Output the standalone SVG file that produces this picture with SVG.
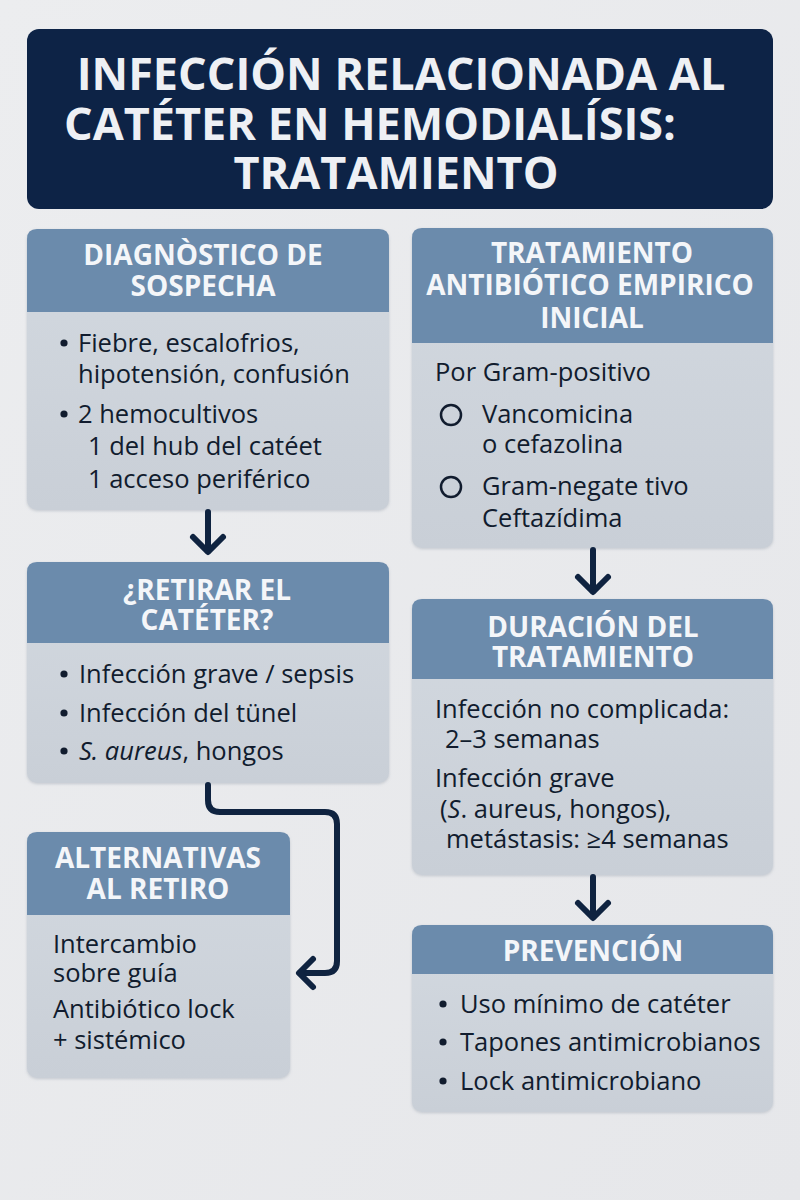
<svg xmlns="http://www.w3.org/2000/svg" width="800" height="1200" viewBox="0 0 800 1200">
<defs>
<linearGradient id="bodyG" x1="0" y1="0" x2="0" y2="1">
<stop offset="0" stop-color="#d3d9e0"/>
<stop offset="1" stop-color="#c9cfd7"/>
</linearGradient>
<linearGradient id="bgG" x1="0" y1="0" x2="1" y2="1">
<stop offset="0" stop-color="#ecedef"/>
<stop offset="1" stop-color="#e6e7ea"/>
</linearGradient>
<filter id="sh" x="-5%" y="-5%" width="110%" height="110%">
<feDropShadow dx="0" dy="1" stdDeviation="1.5" flood-color="#7a8596" flood-opacity="0.35"/>
</filter>
<style>
.body{fill:url(#bodyG);filter:url(#sh)}
.head{fill:#6b8bac}
.ht{font-family:"Open Sans","Noto Sans",sans-serif;font-weight:700;font-size:28px;fill:#f4f6f9;text-anchor:middle}
.tt{font-family:"Open Sans","Noto Sans",sans-serif;font-weight:700;font-size:45px;fill:#eef0f4;text-anchor:middle}
.bt{font-family:"Open Sans","Noto Sans",sans-serif;font-weight:500;font-size:25.5px;fill:#111c2e}
.dot{fill:#111c2e}
.conn{fill:none;stroke:#0f2340;stroke-width:6;stroke-linecap:round;stroke-linejoin:round}
.cb{fill:none;stroke:#111c2e;stroke-width:2.5}
</style>
</defs>
<rect width="800" height="1200" fill="url(#bgG)"/>

<g id="title">
<rect x="27" y="29" width="746" height="180" rx="12" fill="#0d2346"/>
<text class="tt" x="401" y="90">INFECCIÓN RELACIONADA AL</text>
<text class="tt" x="370" y="140">CATÉTER EN HEMODIALÍSIS:</text>
<text class="tt" x="396" y="189">TRATAMIENTO</text>
</g>

<g id="diagnostico">
<rect class="body" x="27" y="229" width="362" height="281" rx="10"/>
<path class="head" d="M27,312 V239 Q27,229 37,229 H379 Q389,229 389,239 V312 Z"/>
<text class="ht" x="203" y="265">DIAGNÒSTICO DE</text>
<text class="ht" x="203" y="296">SOSPECHA</text>
<circle class="dot" cx="64" cy="343" r="3.6"/>
<text class="bt" x="78" y="352">Fiebre, escalofrios,</text>
<text class="bt" x="78" y="383">hipotensión, confusión</text>
<circle class="dot" cx="64" cy="414" r="3.6"/>
<text class="bt" x="78" y="423">2 hemocultivos</text>
<text class="bt" x="88" y="455">1 del hub del catéet</text>
<text class="bt" x="88" y="488">1 acceso periférico</text>
</g>

<g id="retirar">
<rect class="body" x="27" y="562" width="362" height="221" rx="10"/>
<path class="head" d="M27,643 V572 Q27,562 37,562 H379 Q389,562 389,572 V643 Z"/>
<text class="ht" x="207" y="600">¿RETIRAR EL</text>
<text class="ht" x="207" y="630">CATÉTER?</text>
<circle class="dot" cx="64" cy="674" r="3.6"/>
<text class="bt" x="79" y="683">Infección grave / sepsis</text>
<circle class="dot" cx="64" cy="713" r="3.6"/>
<text class="bt" x="79" y="722">Infección del tünel</text>
<circle class="dot" cx="64" cy="751" r="3.6"/>
<text class="bt" x="79" y="760"><tspan font-style="italic">S. aureus</tspan>, hongos</text>
</g>

<g id="alternativas">
<rect class="body" x="27" y="832" width="263" height="246" rx="10"/>
<path class="head" d="M27,915 V842 Q27,832 37,832 H280 Q290,832 290,842 V915 Z"/>
<text class="ht" x="158" y="868">ALTERNATIVAS</text>
<text class="ht" x="158" y="899">AL RETIRO</text>
<text class="bt" x="53" y="953">Intercambio</text>
<text class="bt" x="53" y="982">sobre guía</text>
<text class="bt" x="53" y="1018">Antibiótico lock</text>
<text class="bt" x="53" y="1049">+ sistémico</text>
</g>

<g id="antibiotico">
<rect class="body" x="412" y="228" width="361" height="320" rx="10"/>
<path class="head" d="M412,343 V238 Q412,228 422,228 H763 Q773,228 773,238 V343 Z"/>
<text class="ht" x="592" y="263">TRATAMIENTO</text>
<text class="ht" x="590" y="295" font-size="26.5">ANTIBIÓTICO EMPIRICO</text>
<text class="ht" x="592" y="328">INICIAL</text>
<text class="bt" x="435" y="381">Por Gram-positivo</text>
<circle class="cb" cx="451" cy="415" r="10"/>
<text class="bt" x="482" y="423">Vancomicina</text>
<text class="bt" x="482" y="453">o cefazolina</text>
<circle class="cb" cx="451" cy="487" r="10"/>
<text class="bt" x="482" y="495">Gram-negate tivo</text>
<text class="bt" x="482" y="527">Ceftazídima</text>
</g>

<g id="duracion">
<rect class="body" x="412" y="599" width="361" height="276" rx="10"/>
<path class="head" d="M412,679 V609 Q412,599 422,599 H763 Q773,599 773,609 V679 Z"/>
<text class="ht" x="593" y="637">DURACIÓN DEL</text>
<text class="ht" x="593" y="667">TRATAMIENTO</text>
<text class="bt" x="435" y="718">Infección no complicada:</text>
<text class="bt" x="445" y="748">2–3 semanas</text>
<text class="bt" x="435" y="787">Infección grave</text>
<text class="bt" x="440" y="818">(<tspan font-style="italic">S</tspan>. aureus, hongos),</text>
<text class="bt" x="446" y="848">metástasis: ≥4 semanas</text>
</g>

<g id="prevencion">
<rect class="body" x="412" y="925" width="361" height="187" rx="10"/>
<path class="head" d="M412,974 V935 Q412,925 422,925 H763 Q773,925 773,935 V974 Z"/>
<text class="ht" x="593" y="961">PREVENCIÓN</text>
<circle class="dot" cx="443" cy="1004" r="3.6"/>
<text class="bt" x="460" y="1013">Uso mínimo de catéter</text>
<circle class="dot" cx="443" cy="1042" r="3.6"/>
<text class="bt" x="460" y="1051">Tapones antimicrobianos</text>
<circle class="dot" cx="443" cy="1081" r="3.6"/>
<text class="bt" x="460" y="1090">Lock antimicrobiano</text>
</g>

<g id="connectors">
<path class="conn" d="M208,512 V551"/>
<path class="conn" d="M193,537 L208,552 L223,537"/>
<path class="conn" d="M593,550 V591"/>
<path class="conn" d="M578,577 L593,592 L608,577"/>
<path class="conn" d="M593,877 V916"/>
<path class="conn" d="M578,903 L593,918 L608,903"/>
<path class="conn" d="M208,785 V800 Q208,812 220,812 H325 Q337,812 337,824 V961 Q337,973 325,973 H300"/>
<path class="conn" d="M313,959 L299,973 L313,987"/>
</g>
</svg>
